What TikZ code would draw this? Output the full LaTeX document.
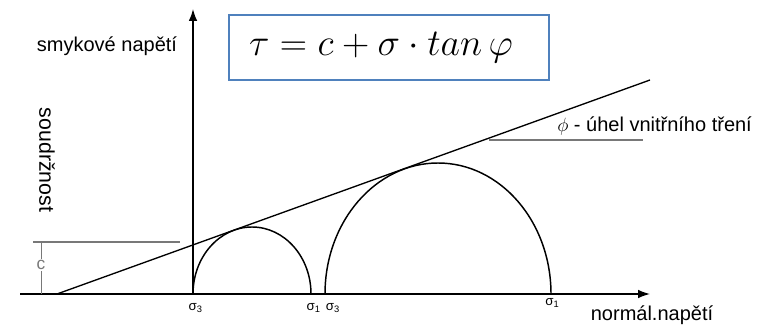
\documentclass[tikz,border=0pt]{standalone}
\usepackage{amsmath, amssymb}
\usepackage{fontspec}
\setmainfont{Liberation Sans}
\usetikzlibrary{arrows.meta,positioning}

\definecolor{boxblue}{RGB}{79,129,189}
\definecolor{guidegray}{RGB}{120,120,120}
\tikzset{
  axis/.style={line width=1.1pt, -{Latex[length=9pt,width=6.5pt]}},
  mohr/.style={line width=1.1pt},
  guide/.style={guidegray, line width=1.1pt},
  lbl/.style={font=\fontsize{15}{18}\selectfont, inner sep=0pt},
  sig/.style={font=\fontsize{10}{11}\selectfont, inner sep=0pt}
}

\begin{document}
\begin{tikzpicture}[x=0.75pt,y=0.75pt]
\useasboundingbox (0,0) rectangle (763,331);
% axes
\coordinate (xs) at (20,37);
\coordinate (xe) at (650,37);
\coordinate (O) at (193,37);
\coordinate (ye) at (193,322);
\draw[axis] (xs) -- (xe);
\draw[axis] (O) -- (ye);
% failure envelope
\coordinate (A) at (57,37);
\coordinate (B) at (650,251);
\draw[line width=1pt] (A) -- (B);
% Mohr circles
\coordinate (s3a) at (193,37);
\coordinate (s1a) at (311,37);
\coordinate (s3b) at (325,37);
\coordinate (s1b) at (551,37);
\draw[mohr] (s3a) arc[start angle=180, end angle=0, x radius=59, y radius=67];
\draw[mohr] (s3b) arc[start angle=180, end angle=0, x radius=113, y radius=131];
\node[sig, below=7pt of s3a, xshift=2pt] (l3a) {σ\textsubscript{3}};
\node[sig, below=7pt of s1a, xshift=2pt] (l1a) {σ\textsubscript{1}};
\node[sig, below=7pt of s3b, xshift=6pt] (l3b) {σ\textsubscript{3}};
\node[sig, below=3pt of s1b, xshift=1pt] (l1b) {σ\textsubscript{1}};
% cohesion
\coordinate (c0) at (33,89);
\coordinate (c1) at (180,89);
\coordinate (t0) at (41,37);
\coordinate (t1) at (41,89);
\draw[guide] (c0) -- (c1);
\draw[guide, line width=0.7pt] (t0) -- (t1);
\node[fill=white, text=guidegray, font=\fontsize{13}{14}\selectfont, inner sep=1pt] (clbl) at (41,66) {c};
% friction angle
\coordinate (u0) at (489,191);
\coordinate (u1) at (643,191);
\draw[guide] (u0) -- (u1);
\node[lbl, anchor=west] (phi) at (557,205) {$\phi$ - úhel vnitřního tření};
% labels
\node[lbl] (tau) at (107,285) {smykové napětí};
\node[lbl] (sig) at (652,16) {normál.napětí};
\node[lbl, font=\fontsize{16}{18}\selectfont, rotate=-90] (coh) at (47,171) {soudržnost};
% formula
\draw[boxblue, line width=1.1pt] (229,251) rectangle (549,316);
\node (eq) at (381,283) {\scalebox{1.14}{\Huge $\tau = c + \sigma \cdot tan\,\varphi$}};
\end{tikzpicture}
\end{document}
